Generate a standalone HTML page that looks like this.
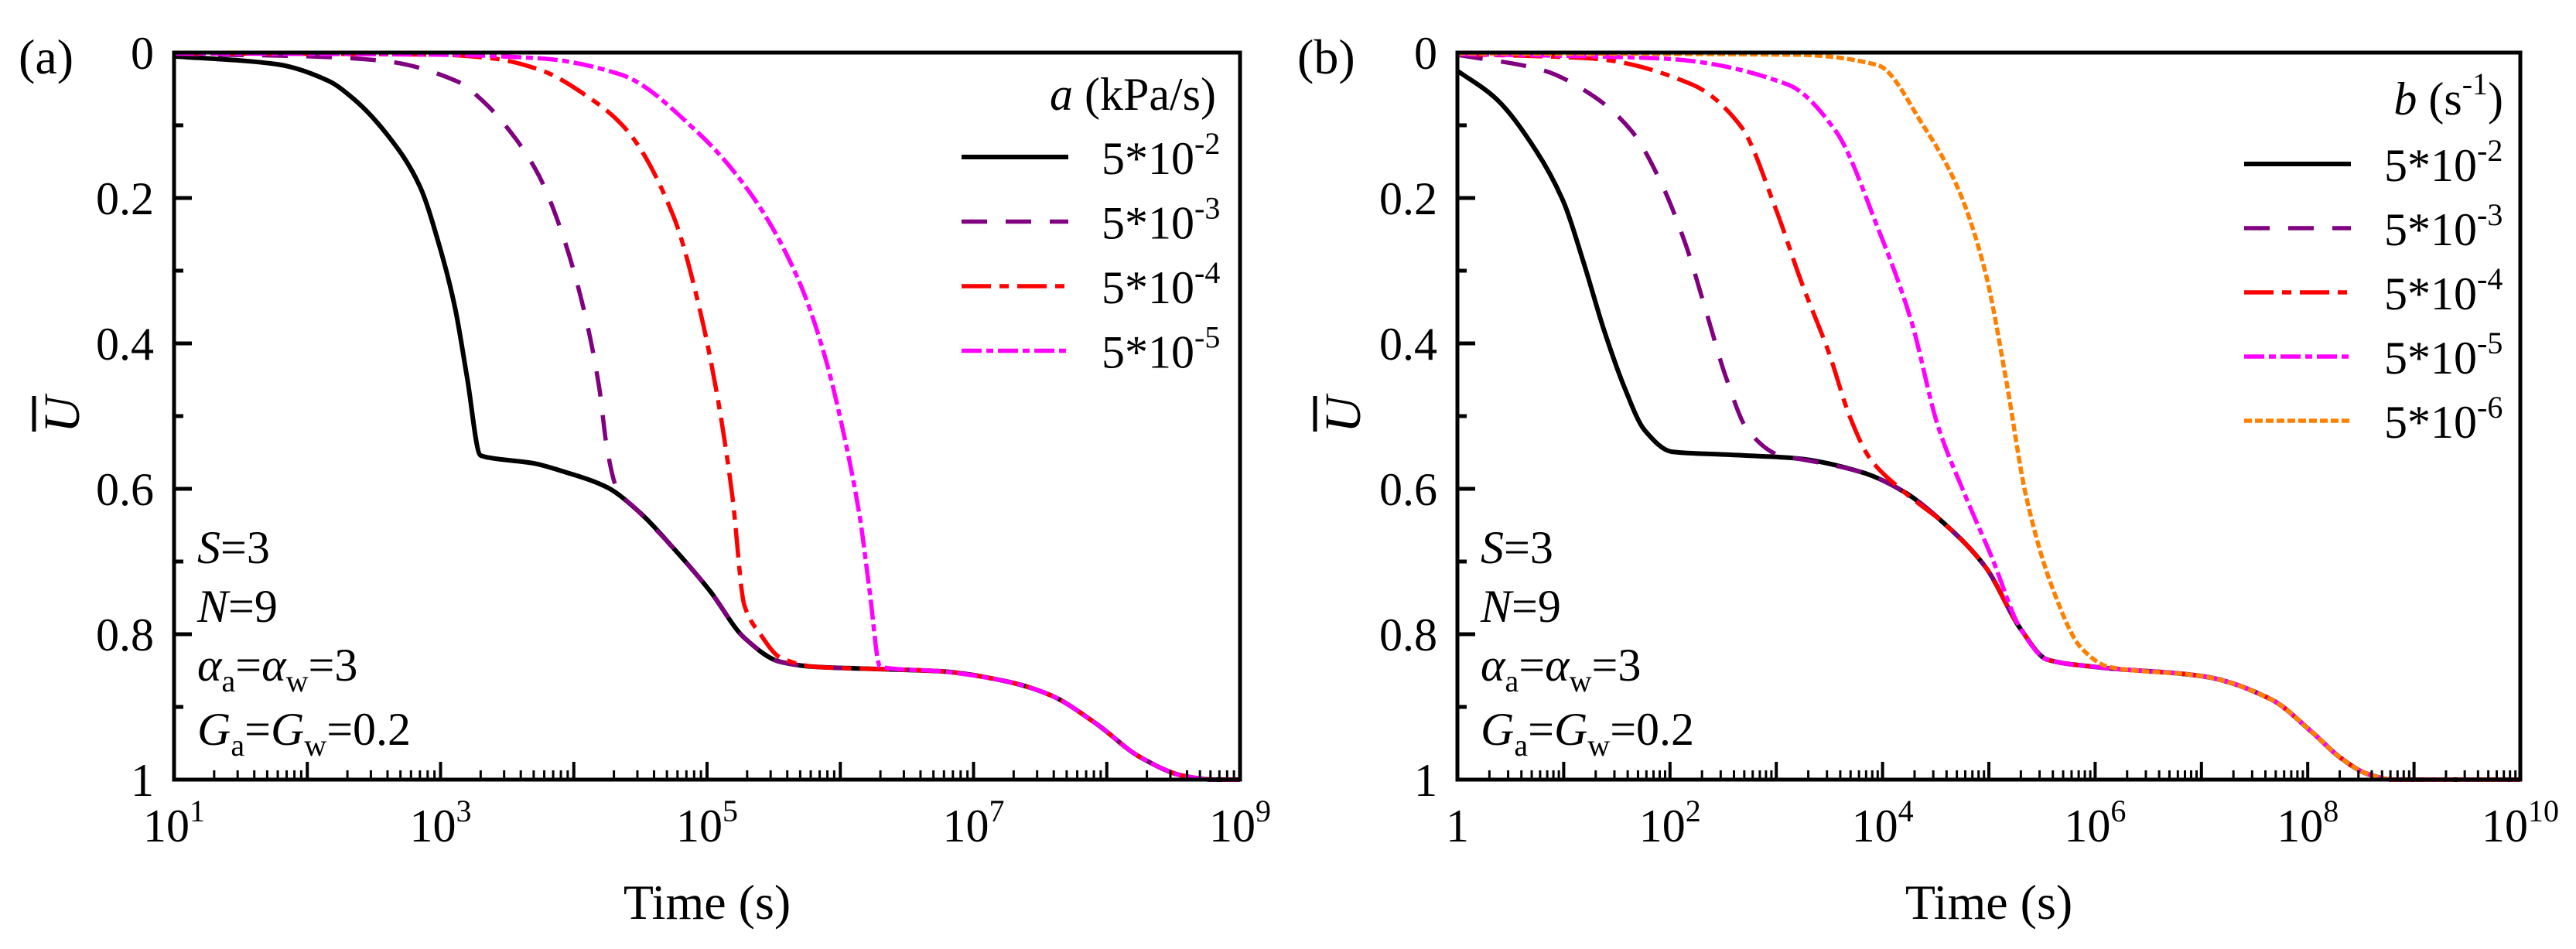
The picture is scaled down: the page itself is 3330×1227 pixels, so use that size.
<!DOCTYPE html>
<html><head><meta charset="utf-8">
<style>
html,body{margin:0;padding:0;background:#fff;}
svg{display:block;}
svg text{font-family:"Liberation Serif","DejaVu Serif",serif;}
</style></head>
<body>
<svg id="fig" width="3330" height="1227" viewBox="0 0 3330 1227" xmlns="http://www.w3.org/2000/svg" font-family="Liberation Serif, DejaVu Serif, serif">
<g id="pa"></g>
<g id="pb"></g>
</svg>
<script>
// ---------- Panel (a) data: x = log10(time s), y = U-bar ----------
const aTicksX = [1,3,5,7,9];
const aTickLabels = ["1","3","5","7","9"];
const yTicks = [0,0.2,0.4,0.6,0.8,1];
const yTickLabels = ["0","0.2","0.4","0.6","0.8","1"];
const aLegendLabels = ["-2","-3","-4","-5"];
const a1X = [1,1.77,2.16,2.35,2.60,2.84,2.99,3.11,3.20,3.30,3.36,3.7,3.9,4.25,4.48,4.75,5.02,5.28,5.55,5.82,6.3,6.75,7.25,7.58,7.92,8.25,8.58,8.8,9];
const a1Y = [0.005,0.016,0.039,0.064,0.113,0.182,0.265,0.352,0.448,0.554,0.557,0.565,0.575,0.598,0.63,0.682,0.74,0.805,0.838,0.845,0.848,0.851,0.865,0.884,0.923,0.969,0.995,1,1];
const a2X = [1,1.97,2.55,3.13,3.32,3.57,3.74,3.9,4.08,4.19,4.25,4.32,4.48,4.75,5.02,5.28,5.55,5.82,6.3,6.75,7.25,7.58,7.92,8.25,8.58,8.8,9];
const a2Y = [0.002,0.005,0.011,0.04,0.067,0.12,0.17,0.242,0.357,0.46,0.545,0.598,0.63,0.682,0.74,0.805,0.838,0.845,0.848,0.851,0.865,0.884,0.923,0.969,0.995,1,1];
const a3X = [1,3,3.39,3.75,4.1,4.39,4.75,4.95,5.09,5.19,5.28,5.4,5.55,5.82,6.3,6.75,7.25,7.58,7.92,8.25,8.58,8.8,9];
const a3Y = [0.001,0.003,0.008,0.024,0.06,0.105,0.226,0.357,0.486,0.61,0.76,0.8,0.832,0.845,0.848,0.851,0.865,0.884,0.923,0.969,0.995,1,1];
const a4X = [1,3,3.75,4.35,4.92,5.35,5.68,5.88,6.05,6.15,6.22,6.30,6.75,7.25,7.58,7.92,8.25,8.58,8.8,9];
const a4Y = [0.001,0.003,0.008,0.03,0.108,0.2,0.31,0.415,0.545,0.643,0.74,0.845,0.851,0.865,0.884,0.923,0.969,0.995,1,1];

// ---------- Panel (b) data ----------
const bTicksX = [0,2,4,6,8,10];
const bTickLabels = ["","2","4","6","8","10"];
const bLegendLabels = ["-2","-3","-4","-5","-6"];
const b1X = [0,0.36,0.74,1.0,1.19,1.38,1.57,1.76,2.02,2.53,3.18,3.82,4.2,4.59,4.97,5.3,5.55,6.0,7.02,7.66,8.05,8.3,8.56,8.8,10];
const b1Y = [0.025,0.063,0.135,0.206,0.29,0.382,0.46,0.519,0.549,0.553,0.558,0.578,0.604,0.649,0.708,0.793,0.835,0.845,0.858,0.89,0.936,0.969,0.992,1,1];
const b2X = [0,0.8,1.25,1.64,1.9,2.15,2.34,2.53,2.73,3.05,3.18,3.82,4.2,4.59,4.97,5.3,5.55,6.0,7.02,7.66,8.05,8.3,8.56,8.8,10];
const b2Y = [0.003,0.024,0.057,0.108,0.174,0.265,0.356,0.448,0.519,0.555,0.558,0.578,0.604,0.649,0.708,0.793,0.835,0.845,0.858,0.89,0.936,0.969,0.992,1,1];
const b3X = [0,1.25,2.21,2.67,2.99,3.24,3.5,3.69,3.88,4.2,4.59,4.97,5.3,5.55,6.0,7.02,7.66,8.05,8.3,8.56,8.8,10];
const b3Y = [0.002,0.008,0.044,0.102,0.213,0.317,0.415,0.5,0.558,0.604,0.649,0.708,0.793,0.835,0.845,0.858,0.89,0.936,0.969,0.992,1,1];
const b4X = [0,1.9,3.11,3.56,3.95,4.27,4.52,4.78,5.03,5.3,5.55,6.0,7.02,7.66,8.05,8.3,8.56,8.8,10];
const b4Y = [0.002,0.008,0.044,0.108,0.239,0.369,0.513,0.61,0.695,0.793,0.835,0.845,0.858,0.89,0.936,0.969,0.992,1,1];
const b5X = [0,3.2,3.95,4.39,4.71,4.97,5.16,5.35,5.61,5.87,6.13,7.02,7.66,8.05,8.3,8.56,8.8,10];
const b5Y = [0.001,0.003,0.017,0.102,0.187,0.304,0.448,0.61,0.741,0.819,0.845,0.858,0.89,0.936,0.969,0.992,1,1];

const NS = "http://www.w3.org/2000/svg";
const FONT = "Liberation Serif, DejaVu Serif, serif";
function mk(parent, tag, attrs){
  const e = document.createElementNS(NS, tag);
  for (const k in attrs) e.setAttribute(k, attrs[k]);
  if (tag === "text") e.setAttribute("font-family", FONT);
  parent.appendChild(e);
  return e;
}
const styles = [
  {stroke:"#000000", w:6, dash:""},
  {stroke:"#800080", w:5.5, dash:"33 24"},
  {stroke:"#ff0000", w:5.5, dash:"38 11 12 11"},
  {stroke:"#ff00ff", w:5.5, dash:"26 6 9 6"},
  {stroke:"#ff8000", w:5.5, dash:"10 4"}
];

function smoothPath(P){
  const n = P.length;
  if (n < 3) return P.map((p,i)=>(i?"L":"M")+p[0].toFixed(1)+","+p[1].toFixed(1)).join("");
  const dx=[], s=[];
  for(let i=0;i<n-1;i++){ dx[i]=P[i+1][0]-P[i][0]; s[i]=(P[i+1][1]-P[i][1])/dx[i]; }
  const m=[s[0]];
  for(let i=1;i<n-1;i++){
    if (s[i-1]*s[i] <= 0) m[i]=0;
    else { const w1=2*dx[i]+dx[i-1], w2=dx[i]+2*dx[i-1]; m[i]=(w1+w2)/(w1/s[i-1]+w2/s[i]); }
  }
  m[n-1]=s[n-2];
  let d="M"+P[0][0].toFixed(1)+","+P[0][1].toFixed(1);
  for(let i=0;i<n-1;i++){
    const h=dx[i];
    d+="C"+(P[i][0]+h/3).toFixed(1)+","+(P[i][1]+m[i]*h/3).toFixed(1)+" "+
       (P[i+1][0]-h/3).toFixed(1)+","+(P[i+1][1]-m[i+1]*h/3).toFixed(1)+" "+
       P[i+1][0].toFixed(1)+","+P[i+1][1].toFixed(1);
  }
  return d;
}

function panel(g, cfg){
  const L=cfg.L, R=cfg.R, T=68, B=1008;
  const xs = v => L + (v - cfg.xmin)/(cfg.xmax-cfg.xmin)*(R-L);
  const ys = v => T + v*(B-T);
  cfg.series.forEach((s,i)=>{
    const st = styles[i];
    const pts = s.x.map((xv,j)=>[xs(xv), ys(s.y[j])]);
    const p = mk(g,"path",{d:smoothPath(pts),fill:"none",stroke:st.stroke,"stroke-width":st.w,"stroke-dasharray":st.dash,"stroke-linejoin":"round"});
    
    
  });
  const fr = mk(g,"rect",{x:L,y:T,width:R-L,height:B-T,fill:"none",stroke:"#000","stroke-width":5});
  
  
  for(let k=0;k<=10;k++){
    const yy = ys(k/10);
    const len = (k%2==0)?23:12;
    mk(g,"line",{x1:L,x2:L+len,y1:yy,y2:yy,stroke:"#000","stroke-width":5});
  }
  yTicks.forEach((v,i)=>{
    const t = mk(g,"text",{x:L-26,y:ys(v)+21,"text-anchor":"end","font-size":60});
    t.textContent = yTickLabels[i];
    
    
  });
  for(let dec=cfg.xmin; dec<=cfg.xmax; dec++){
    mk(g,"line",{x1:xs(dec),x2:xs(dec),y1:B,y2:B-23,stroke:"#000","stroke-width":4});
    if(dec<cfg.xmax){
      for(let m=2;m<=9;m++){
        const xv = xs(dec+Math.log10(m));
        mk(g,"line",{x1:xv,x2:xv,y1:B,y2:B-12,stroke:"#000","stroke-width":3});
      }
    }
  }
  cfg.ticks.forEach((v,i)=>{
    const t = mk(g,"text",{x:xs(v),y:1088,"text-anchor":"middle","font-size":60});
    
    
    if(cfg.tickLabels[i]===""){ t.textContent = "1"; }
    else {
      t.textContent = "10";
      const s = mk(t,"tspan",{dy:-26,"font-size":40}); s.textContent = cfg.tickLabels[i];
    }
  });
  const xt = mk(g,"text",{x:(L+R)/2,y:1188,"text-anchor":"middle","font-size":64});
  xt.textContent = "Time (s)";
  
  
  const yt = mk(g,"g",{transform:`translate(${cfg.ylab},536) rotate(-90)`});
  
  
  const ut = mk(yt,"text",{x:0,y:22,"text-anchor":"middle","font-size":66,"font-style":"italic"});
  ut.textContent = "U";
  mk(yt,"line",{x1:-22,x2:24,y1:-36,y2:-36,stroke:"#000","stroke-width":5});
  const pl = mk(g,"text",{x:cfg.letterX,y:95,"font-size":64});
  pl.textContent = cfg.letter;
  
  
  const ax = L+30;
  const ann = mk(g,"g",{});
  
  
  let t = mk(ann,"text",{x:ax,y:728,"font-size":60});
  t.innerHTML = '<tspan font-style="italic">S</tspan>=3';
  t = mk(ann,"text",{x:ax,y:804,"font-size":60});
  t.innerHTML = '<tspan font-style="italic">N</tspan>=9';
  t = mk(ann,"text",{x:ax,y:880,"font-size":60});
  t.innerHTML = '<tspan font-style="italic">α</tspan><tspan font-size="40" dy="14">a</tspan><tspan dy="-14">=</tspan><tspan font-style="italic">α</tspan><tspan font-size="40" dy="14">w</tspan><tspan dy="-14">=3</tspan>';
  t = mk(ann,"text",{x:ax,y:963,"font-size":60});
  t.innerHTML = '<tspan font-style="italic">G</tspan><tspan font-size="40" dy="14">a</tspan><tspan dy="-14">=</tspan><tspan font-style="italic">G</tspan><tspan font-size="40" dy="14">w</tspan><tspan dy="-14">=0.2</tspan>';
  const lg = mk(g,"g",{});
  
  
  const tt = mk(lg,"text",{x:cfg.legTitleX,y:cfg.legTitleY,"text-anchor":"end","font-size":60});
  tt.innerHTML = cfg.legTitle;
  cfg.legLabels.forEach((lab,i)=>{
    const yy = cfg.legY0 + i*cfg.legDy;
    const st = styles[i];
    const ln = mk(lg,"line",{x1:cfg.legX1,x2:cfg.legX1+138,y1:yy,y2:yy,stroke:st.stroke,"stroke-width":st.w,"stroke-dasharray":st.dash});
    
    
    const tx = mk(lg,"text",{x:cfg.legX1+181,y:yy+22,"font-size":60});
    
    
    tx.textContent = "5*10";
    const sp = mk(tx,"tspan",{dy:-26,"font-size":40}); sp.textContent = lab;
  });
}

panel(document.getElementById('pa'),{
  id:"a", L:225, R:1603, xmin:1, xmax:9, ylab:80, letter:"(a)", letterX:24,
  ticks:aTicksX, tickLabels:aTickLabels,
  series:[{x:a1X,y:a1Y},{x:a2X,y:a2Y},{x:a3X,y:a3Y},{x:a4X,y:a4Y}],
  legTitle:'<tspan font-style="italic">a</tspan> (kPa/s)', legTitleX:1572, legTitleY:142,
  legLabels:aLegendLabels, legY0:203, legDy:83.5, legX1:1243
});
panel(document.getElementById('pb'),{
  id:"b", L:1884, R:3258, xmin:0, xmax:10, ylab:1736, letter:"(b)", letterX:1677,
  ticks:bTicksX, tickLabels:bTickLabels,
  series:[{x:b1X,y:b1Y},{x:b2X,y:b2Y},{x:b3X,y:b3Y},{x:b4X,y:b4Y},{x:b5X,y:b5Y}],
  legTitle:'<tspan font-style="italic">b</tspan> (s<tspan font-size="40" dy="-26">-1</tspan><tspan dy="26">)</tspan>', legTitleX:3236, legTitleY:148,
  legLabels:bLegendLabels, legY0:212, legDy:83, legX1:2901
});
</script>
</body></html>
